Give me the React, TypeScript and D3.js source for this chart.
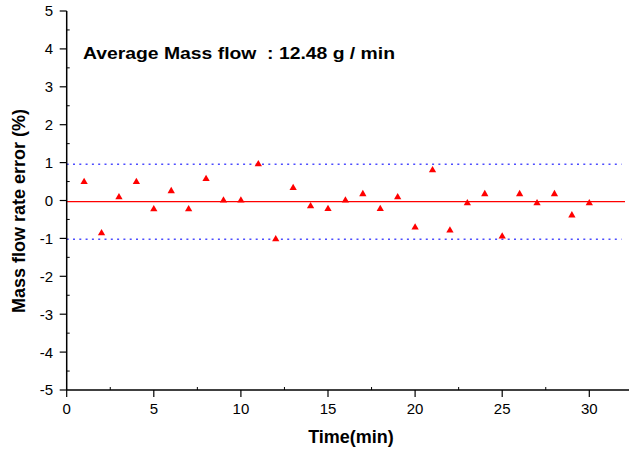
import React from "react";
import * as d3 from "d3";

const times = [1,2,3,4,5,6,7,8,9,10,11,12,13,14,15,16,17,18,19,20,21,22,23,24,25,26,27,28,29,30];
const errors = [0.49,-0.86,0.09,0.49,-0.23,0.25,-0.23,0.57,0.0,0.0,0.96,-1.02,0.33,-0.15,-0.22,0.0,0.17,-0.22,0.09,-0.71,0.80,-0.79,-0.07,0.17,-0.95,0.17,-0.07,0.17,-0.39,-0.07];
const meanLine = -0.03;
const upperLimit = 0.955;
const lowerLimit = -1.02;
const xTicks = [0,5,10,15,20,25,30];
const xMinor = [2.5,7.5,12.5,17.5,22.5,27.5];
const yTicks = [-5,-4,-3,-2,-1,0,1,2,3,4,5];
const yMinor = [-4.5,-3.5,-2.5,-1.5,-0.5,0.5,1.5,2.5,3.5,4.5];
const annotation = "Average Mass flow  : 12.48 g / min";
const xTitle = "Time(min)";
const yTitle = "Mass flow rate error (%)";

const W = 629, H = 454;
const FONT = "'Liberation Sans', Arial, sans-serif";

export default function App() {
  const x = d3.scaleLinear().domain([0, 30]).range([66.7, 589.3]);
  const y = d3.scaleLinear().domain([-5, 5]).range([390, 11]);
  const tri = d3.symbol().type(d3.symbolTriangle).size(23)() as string;
  const x0 = x(0), y0 = y(-5);
  return (
    <svg width={W} height={H} style={{ position: "fixed", left: 0, top: 0, background: "#fff" }}>
      <rect width={W} height={H} fill="#fff" />
      {/* reference lines */}
      <line x1={x0} x2={x(31.85)} y1={y(upperLimit)} y2={y(upperLimit)} stroke="#4d4dff" strokeWidth={1.5} strokeDasharray="2 4.3" />
      <line x1={x0} x2={x(31.85)} y1={y(lowerLimit)} y2={y(lowerLimit)} stroke="#4d4dff" strokeWidth={1.5} strokeDasharray="2 4.3" />
      <line x1={x0} x2={x(32.05)} y1={y(meanLine)} y2={y(meanLine)} stroke="#ff0000" strokeWidth={1.2} />
      {/* points */}
      {times.map((t, i) => (
        <path key={i} d={tri} transform={`translate(${x(t)},${y(errors[i])})`} fill="#ff0000" />
      ))}
      {/* axes */}
      <line x1={x0} x2={x0} y1={y(5)} y2={y0} stroke="#000" strokeWidth={1.5} />
      <line x1={x0} x2={W} y1={y0} y2={y0} stroke="#000" strokeWidth={1.5} />
      {yTicks.map(v => (
        <g key={v}>
          <line x1={x0 - 7} x2={x0} y1={y(v)} y2={y(v)} stroke="#000" strokeWidth={1.2} />
          <text x={53} y={y(v)} dy="0.36em" textAnchor="end" fontFamily={FONT} fontSize={15}>{v}</text>
        </g>
      ))}
      {yMinor.map(v => (
        <line key={v} x1={x0} x2={x0 + 3} y1={y(v)} y2={y(v)} stroke="#000" strokeWidth={1} />
      ))}
      {xTicks.map(v => (
        <g key={v}>
          <line x1={x(v)} x2={x(v)} y1={y0} y2={y0 + 7} stroke="#000" strokeWidth={1.2} />
          <text x={x(v)} y={414} textAnchor="middle" fontFamily={FONT} fontSize={15}>{v}</text>
        </g>
      ))}
      {xMinor.map(v => (
        <line key={v} x1={x(v)} x2={x(v)} y1={y0} y2={y0 - 3} stroke="#000" strokeWidth={1} />
      ))}
      <text x={83} y={59} fontFamily={FONT} fontSize={17} fontWeight="bold" textLength={312} lengthAdjust="spacingAndGlyphs" style={{ whiteSpace: "pre" }}>{annotation}</text>
      <text x={351} y={443} textAnchor="middle" fontFamily={FONT} fontSize={18} fontWeight="bold">{xTitle}</text>
      <text transform={`translate(25,211) rotate(-90)`} textAnchor="middle" fontFamily={FONT} fontSize={18} fontWeight="bold">{yTitle}</text>
    </svg>
  );
}
